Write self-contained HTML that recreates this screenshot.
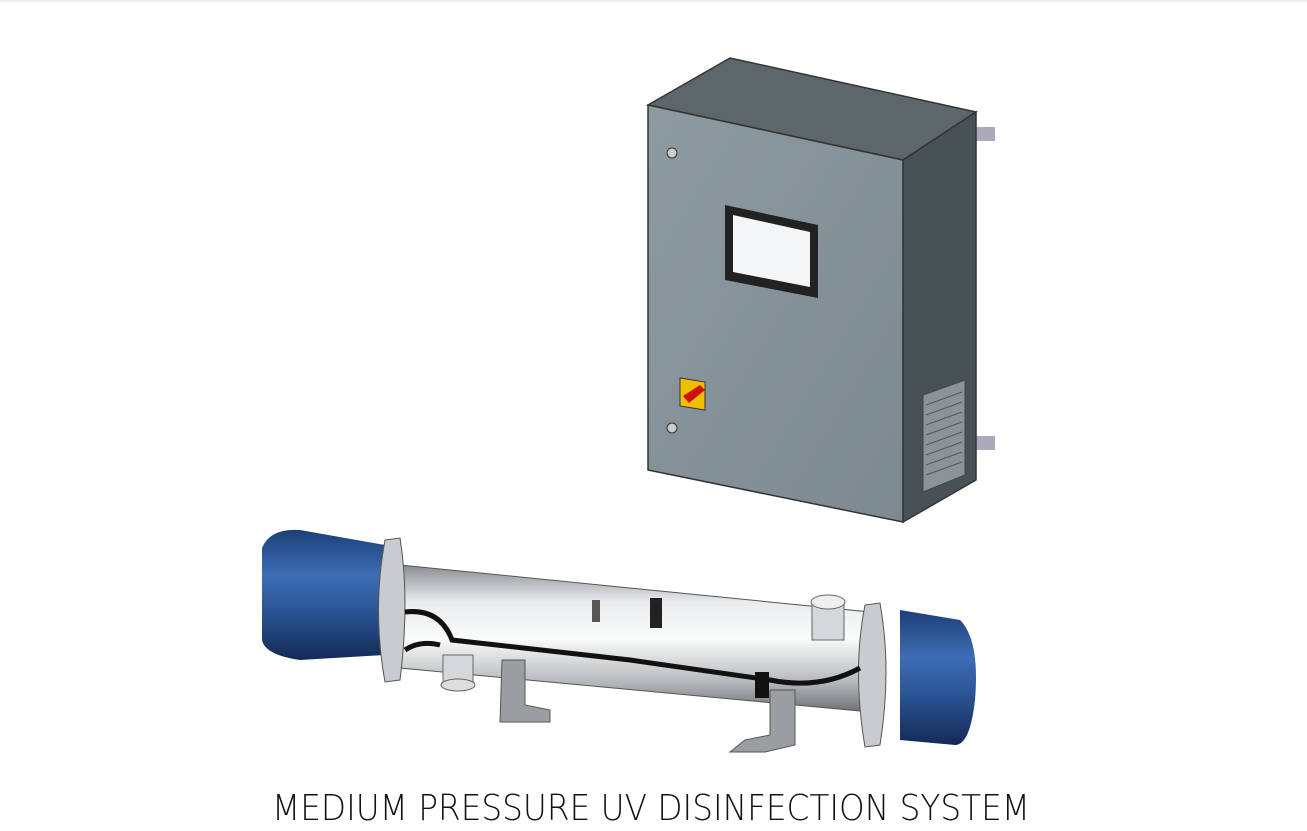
<!DOCTYPE html>
<html><head><meta charset="utf-8"><style>
html,body{margin:0;padding:0;background:#fff;}
svg{display:block}
</style></head><body>
<svg width="1307" height="831" viewBox="0 0 1307 831" xmlns="http://www.w3.org/2000/svg">
<defs>
<linearGradient id="steel" x1="0" y1="0" x2="0" y2="1">
<stop offset="0" stop-color="#8a8d90"/><stop offset="0.25" stop-color="#e9ecee"/><stop offset="0.5" stop-color="#fafbfb"/><stop offset="0.8" stop-color="#b5b8bb"/><stop offset="1" stop-color="#6c7074"/>
</linearGradient>
<linearGradient id="blue" x1="0" y1="0" x2="0" y2="1">
<stop offset="0" stop-color="#1d3f78"/><stop offset="0.35" stop-color="#3e6db3"/><stop offset="0.6" stop-color="#2c5799"/><stop offset="1" stop-color="#142a55"/>
</linearGradient>
<linearGradient id="front" x1="0" y1="0" x2="1" y2="1">
<stop offset="0" stop-color="#8e9aa1"/><stop offset="1" stop-color="#7d8990"/>
</linearGradient>
</defs>
<rect x="0" y="0" width="1307" height="2" fill="#eee"/>
<!-- cabinet -->
<rect x="975" y="127" width="20" height="14" fill="#aab"/>
<rect x="975" y="436" width="20" height="14" fill="#aab"/>
<polygon points="648,105 730,58 976,112 903,160" fill="#5d666b" stroke="#333" stroke-width="1.5"/>
<polygon points="903,160 976,112 976,480 903,522" fill="#485156" stroke="#333" stroke-width="1.5"/>
<polygon points="648,105 903,160 903,522 648,470" fill="url(#front)" stroke="#333" stroke-width="1.5"/>
<polygon points="923,395 965,380 965,475 923,492" fill="#8a9399" stroke="#444"/>
<g stroke="#555" stroke-width="1">
<line x1="926" y1="405" x2="962" y2="392"/><line x1="926" y1="415" x2="962" y2="402"/><line x1="926" y1="425" x2="962" y2="412"/><line x1="926" y1="435" x2="962" y2="422"/><line x1="926" y1="445" x2="962" y2="432"/><line x1="926" y1="455" x2="962" y2="442"/><line x1="926" y1="465" x2="962" y2="452"/><line x1="926" y1="475" x2="962" y2="462"/>
</g>
<circle cx="672" cy="153" r="5" fill="#ccc" stroke="#333"/>
<circle cx="672" cy="428" r="5" fill="#ccc" stroke="#333"/>
<polygon points="725,205 818,225 818,298 725,280" fill="#222"/>
<polygon points="733,215 810,232 810,287 733,272" fill="#f4f5f6"/>
<polygon points="680,378 705,382 705,410 680,406" fill="#f0c000" stroke="#333"/>
<polygon points="683,396 700,385 705,390 689,403" fill="#d01010"/>
<!-- left cap -->
<path d="M262,548 Q270,528 300,530 L385,545 L385,655 L300,660 Q265,655 262,640 Z" fill="url(#blue)"/>
<!-- right cap -->
<path d="M900,610 L960,620 Q980,640 975,700 Q970,745 955,745 L900,740 Z" fill="url(#blue)"/>
<!-- tube -->
<polygon points="400,565 870,612 870,712 400,668" fill="url(#steel)" stroke="#555"/>
<!-- flanges -->
<path d="M385,540 L400,538 Q410,600 400,680 L385,682 Q372,610 385,540 Z" fill="#c9ccce" stroke="#555"/>
<path d="M865,605 L880,603 Q892,670 880,745 L865,747 Q852,670 865,605 Z" fill="#c9ccce" stroke="#555"/>
<!-- ports -->
<rect x="812" y="600" width="32" height="40" fill="#d5d8da" stroke="#666"/>
<ellipse cx="828" cy="602" rx="17" ry="7" fill="#eee" stroke="#666"/>
<rect x="443" y="655" width="30" height="30" fill="#d5d8da" stroke="#666"/>
<ellipse cx="458" cy="685" rx="17" ry="6" fill="#ddd" stroke="#666"/>
<!-- legs -->
<polygon points="502,660 525,660 525,705 550,710 550,722 500,722" fill="#9a9ea1" stroke="#555"/>
<polygon points="770,690 795,690 795,745 765,752 730,752 745,740 770,735" fill="#9a9ea1" stroke="#555"/>
<!-- cables -->
<path d="M405,612 Q440,608 452,640 L630,660 L770,680 Q820,690 860,668" fill="none" stroke="#111" stroke-width="5"/>
<path d="M405,650 Q420,640 440,645" fill="none" stroke="#111" stroke-width="5"/>
<rect x="592" y="600" width="8" height="22" fill="#555"/>
<rect x="650" y="598" width="12" height="30" fill="#222"/>
<rect x="755" y="672" width="14" height="26" fill="#111"/>
<text x="272" y="820" font-family="DejaVu Sans, sans-serif" font-weight="200" font-size="36" textLength="758" lengthAdjust="spacingAndGlyphs" fill="#111">MEDIUM PRESSURE UV DISINFECTION SYSTEM</text>
</svg>
</body></html>
